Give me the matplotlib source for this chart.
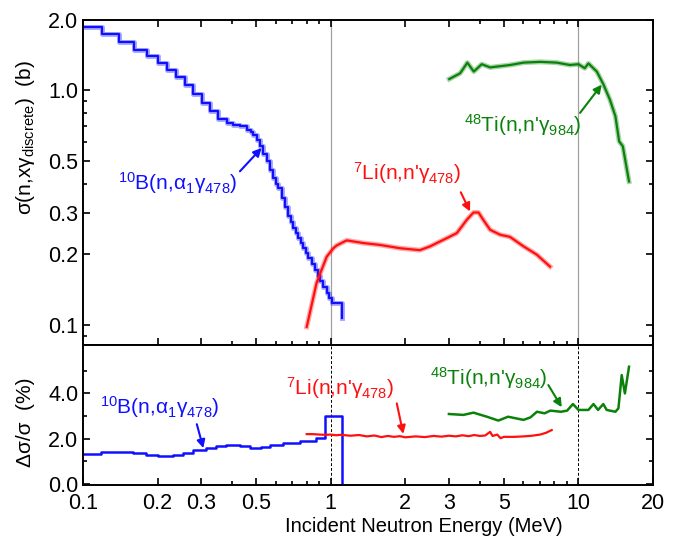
import numpy as np
import matplotlib
matplotlib.use('Agg')
import matplotlib.pyplot as plt
from matplotlib.ticker import FixedLocator, FixedFormatter, NullFormatter

plt.rcParams['font.family'] = ['Liberation Sans', 'DejaVu Sans']
plt.rcParams['mathtext.fontset'] = 'custom'
plt.rcParams['mathtext.rm'] = 'Liberation Sans'
plt.rcParams['mathtext.it'] = 'Liberation Sans:italic'
plt.rcParams['mathtext.bf'] = 'Liberation Sans:bold'

# ---- cross sections (b), top panel ----
b10_e = [0.100, 0.119, 0.140, 0.160, 0.181, 0.201, 0.218, 0.237, 0.258, 0.279,
         0.301, 0.326, 0.352, 0.380, 0.405, 0.43, 0.458, 0.475, 0.487, 0.503,
         0.518, 0.535, 0.552, 0.570, 0.587, 0.600, 0.615, 0.634, 0.654, 0.674,
         0.690, 0.706, 0.723, 0.740, 0.757, 0.775, 0.793, 0.812, 0.838, 0.865,
         0.885, 0.905, 0.934, 0.964, 0.985, 1.01, 1.11]
b10_xs = [1.85, 1.73, 1.60, 1.49, 1.40, 1.31, 1.22, 1.14, 1.05, 0.967,
          0.885, 0.811, 0.755, 0.725, 0.713, 0.700, 0.679, 0.662, 0.646, 0.612,
          0.576, 0.535, 0.497, 0.458, 0.422, 0.400, 0.383, 0.347, 0.319, 0.290,
          0.274, 0.259, 0.246, 0.234, 0.223, 0.212, 0.202, 0.192, 0.181, 0.171,
          0.162, 0.153, 0.145, 0.137, 0.130, 0.124, 0.107]

li7_e = [0.800, 0.877, 0.963, 1.025, 1.058, 1.16, 1.356, 1.58, 1.905, 2.29,
         2.52, 2.94, 3.23, 3.54, 3.77, 3.95, 4.13, 4.40, 4.83, 5.29, 6.0,
         6.79, 7.68]
li7_xs = [0.098, 0.151, 0.195, 0.212, 0.218, 0.229, 0.223, 0.219, 0.212, 0.208,
          0.216, 0.234, 0.246, 0.280, 0.301, 0.301, 0.280, 0.254, 0.242, 0.237,
          0.216, 0.199, 0.177]

ti48_e = [3.01, 3.33, 3.56, 3.78, 4.07, 4.40, 5.30, 6.0, 7.02, 8.17, 9.25,
          10.0, 10.6, 10.97, 11.86, 12.6, 13.4, 14.1, 14.6, 15.1, 16.0]
ti48_xs = [1.115, 1.18, 1.31, 1.20, 1.29, 1.25, 1.28, 1.31, 1.32, 1.31, 1.28,
           1.29, 1.24, 1.30, 1.20, 1.06, 0.91, 0.774, 0.605, 0.577, 0.408]

# ---- relative uncertainties (%), bottom panel ----
b10_ue = [0.100, 0.1186, 0.159, 0.180, 0.201, 0.231, 0.253, 0.278, 0.315,
          0.345, 0.379, 0.429, 0.471, 0.525, 0.567, 0.642, 0.749, 0.875,
          0.945, 1.11]
b10_unc = [1.32, 1.41, 1.35, 1.28, 1.24, 1.28, 1.38, 1.50, 1.57,
           1.68, 1.74, 1.68, 1.57, 1.62, 1.74, 1.80, 1.88, 2.05,
           3.00, 0.0]

li7_ue = [0.80, 0.85, 0.90, 0.95, 1.0, 1.05, 1.1, 1.2, 1.3, 1.4, 1.5, 1.6, 1.7,
          1.8, 1.9, 2.0, 2.2, 2.4, 2.6, 2.8, 3.0, 3.2, 3.4, 3.6, 3.8, 4.0, 4.2,
          4.4, 4.5, 4.7, 4.85, 5.0, 5.5, 6.0, 6.5, 7.0, 7.4, 7.8]
li7_unc = [2.20, 2.20, 2.18, 2.17, 2.18, 2.15, 2.17, 2.13, 2.16, 2.10, 2.14,
           2.07, 2.12, 2.08, 2.11, 2.06, 2.10, 2.07, 2.12, 2.09, 2.13, 2.10,
           2.15, 2.11, 2.16, 2.12, 2.14, 2.30, 2.12, 2.18, 2.02, 2.08, 2.08,
           2.10, 2.13, 2.18, 2.26, 2.38]

ti48_ue = [3.0, 3.43, 3.77, 4.27, 4.75, 5.2, 6.0, 6.4, 6.8, 7.3, 7.7, 8.5, 9.0,
           9.5, 10.0, 10.97, 11.5, 12.0, 12.6, 13.0, 14.1, 14.5, 14.95, 15.4, 16.0]
ti48_unc = [3.09, 3.05, 3.15, 2.97, 2.80, 2.97, 2.83, 2.94, 3.19, 3.12, 3.24,
            3.19, 3.24, 3.53, 3.27, 3.27, 3.53, 3.27, 3.53, 3.27, 3.19, 3.34,
            4.81, 4.00, 5.18]

x_major = [0.1, 0.2, 0.3, 0.5, 1, 2, 3, 5, 10, 20]
x_labels = ['0.1', '0.2', '0.3', '0.5', '1', '2', '3', '5', '10', '20']
x_minor = [0.4, 0.6, 0.7, 0.8, 0.9, 4, 6, 7, 8, 9]
y_major = [0.1, 0.2, 0.3, 0.5, 1.0, 2.0]
y_labels = ['0.1', '0.2', '0.3', '0.5', '1.0', '2.0']
y_minor = [0.09, 0.4, 0.6, 0.7, 0.8, 0.9]

blue = '#1010ff'
red = '#ff1010'
green = '#0a820a'

fig = plt.figure(figsize=(6.76, 5.36), dpi=100)
ax1 = fig.add_axes([0.1228, 0.3563, 0.8432, 0.6073])
ax2 = fig.add_axes([0.1228, 0.0951, 0.8432, 0.2612])

for ax in (ax1, ax2):
    ax.set_xscale('log')
    ax.set_xlim(0.1, 20)
    ax.xaxis.set_major_locator(FixedLocator(x_major))
    ax.xaxis.set_minor_locator(FixedLocator(x_minor))
    ax.xaxis.set_minor_formatter(NullFormatter())
    ax.tick_params(which='both', direction='in', width=1.2, labelsize=15.5,
                   right=True)
    ax.tick_params(which='major', length=5)
    ax.tick_params(which='minor', length=3)
    for s in ax.spines.values():
        s.set_linewidth(1.4)

# top panel
ax1.set_yscale('log')
ax1.set_ylim(0.082, 2.0)
ax1.yaxis.set_major_locator(FixedLocator(y_major))
ax1.yaxis.set_major_formatter(FixedFormatter(y_labels))
ax1.yaxis.set_minor_locator(FixedLocator(y_minor))
ax1.yaxis.set_minor_formatter(NullFormatter())
ax1.tick_params(which='both', top=True, labelbottom=False)
ax1.axvline(1, color='#a0a0a0', lw=0.9, zorder=0)
ax1.axvline(10, color='#a0a0a0', lw=0.9, zorder=0)

for e, v, c, ds in [(b10_e, b10_xs, blue, 'steps-post'),
                    (li7_e, li7_xs, red, 'default'),
                    (ti48_e, ti48_xs, green, 'default')]:
    ax1.plot(e, v, color=c, lw=3.6, alpha=0.35, drawstyle=ds)
    ax1.plot(e, v, color=c, lw=1.6, drawstyle=ds)

# bottom panel
ax2.set_ylim(-0.05, 6.14)
ax2.yaxis.set_major_locator(FixedLocator([0, 2, 4]))
ax2.yaxis.set_major_formatter(FixedFormatter(['0.0', '2.0', '4.0']))
ax2.yaxis.set_minor_locator(FixedLocator([1, 3, 5]))
ax2.xaxis.set_major_formatter(FixedFormatter(x_labels))
ax2.tick_params(axis='x', which='major', pad=6)
ax2.axvline(1, color='k', lw=0.7, ls=(0, (3, 2)), zorder=0)
ax2.axvline(10, color='k', lw=0.7, ls=(0, (3, 2)), zorder=0)
ax2.plot(b10_ue, b10_unc, color=blue, lw=1.8, drawstyle='steps-post')
ax2.plot(li7_ue, li7_unc, color=red, lw=1.6)
ax2.plot(ti48_ue, ti48_unc, color=green, lw=1.8)

# annotations
arrow = dict(arrowstyle='-|>', lw=1.5, mutation_scale=12, shrinkA=0, shrinkB=0)
notes = [
    (ax1, r'$^{10}$B(n,α$_1$γ$_{478}$)', blue, (0.242, 0.403), (0.430, 0.451), (0.526, 0.567)),
    (ax1, r"$^7$Li(n,n'γ$_{478}$)", red, (2.04, 0.445), (3.35, 0.367), (3.65, 0.304)),
    (ax1, r"$^{48}$Ti(n,n'γ$_{984}$)", green, (5.95, 0.713), (10.15, 0.800), (12.42, 1.056)),
    (ax2, r'$^{10}$B(n,α$_1$γ$_{478}$)', blue, (0.204, 3.40), (0.288, 2.64), (0.306, 1.58)),
    (ax2, r"$^7$Li(n,n'γ$_{478}$)", red, (1.095, 4.24), (1.848, 3.56), (1.963, 2.21)),
    (ax2, r"$^{48}$Ti(n,n'γ$_{984}$)", green, (4.36, 4.68), (7.56, 4.37), (8.56, 3.39)),
]
for ax, txt, c, pos, a0, a1 in notes:
    ax.text(pos[0], pos[1], txt, color=c, fontsize=15, ha='center', va='center')
    ax.annotate('', xy=a1, xytext=a0, arrowprops=dict(arrow, color=c))

fig.text(0.037, 0.744, r'σ(n,xγ$_{\rm discrete}$)  (b)', rotation=90,
         ha='center', va='center', fontsize=15)
fig.text(0.037, 0.213, 'Δσ/σ  (%)', rotation=90, ha='center', va='center',
         fontsize=15)
fig.text(0.627, 0.0, 'Incident Neutron Energy (MeV)', ha='center',
         va='bottom', fontsize=14.5)

fig.savefig('out.png', dpi=100)
